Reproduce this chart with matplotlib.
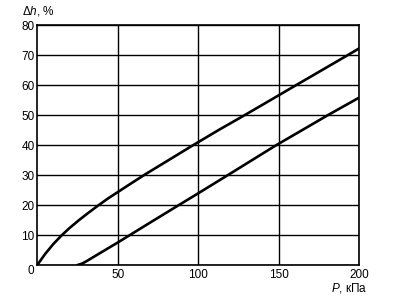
import matplotlib
matplotlib.use('Agg')
import matplotlib.pyplot as plt

plt.rcParams['font.family'] = ['Liberation Sans', 'DejaVu Sans']
plt.rcParams['mathtext.fontset'] = 'custom'
plt.rcParams['mathtext.rm'] = 'Liberation Sans'
plt.rcParams['mathtext.it'] = 'Liberation Sans:italic'

# верхняя кривая
p_upper = [0, 5, 10, 15, 20, 26, 32, 38, 44, 50, 58, 67, 82, 97, 113, 129,
           145, 160, 177, 193, 200]
h_upper = [0, 3.75, 7.0, 9.8, 12.3, 15.0, 17.5, 19.9, 22.2, 24.3, 27.1, 30.2,
           35.1, 40.0, 45.1, 50.0, 55.0, 59.7, 65.0, 70.0, 72.2]

# нижняя кривая
p_lower = [25, 28, 31, 35, 40, 50, 70, 87.7, 100, 120, 148, 165, 181, 200]
h_lower = [0, 0.5, 1.4, 2.7, 4.3, 7.5, 14.1, 19.9, 23.9, 30.5, 39.8, 45.1,
           50.1, 55.8]

x_ticks = [50, 100, 150, 200]
y_ticks = [0, 10, 20, 30, 40, 50, 60, 70, 80]

fig = plt.figure(figsize=(3.96, 3.05), dpi=100)
ax = fig.add_axes([0.094, 0.131, 0.813, 0.787])

ax.plot(p_upper, h_upper, color='black', lw=1.9, solid_capstyle='round')
ax.plot(p_lower, h_lower, color='black', lw=1.9, solid_capstyle='round')

ax.set_xlim(0, 200)
ax.set_ylim(0, 80)
ax.set_xticks(x_ticks)
ax.set_yticks(y_ticks)
ax.grid(True, color='black', lw=1.0)
ax.tick_params(length=0, labelsize=8.5)
ax.tick_params(axis='y', pad=2)
ax.tick_params(axis='x', pad=3)
ax.get_yticklabels()[0].set_va('top')
for s in ax.spines.values():
    s.set_linewidth(1.2)

ax.text(-0.048, 1.03, r'$\Delta h$, %', transform=ax.transAxes, fontsize=8.5,
        ha='left', va='bottom')
ax.text(1.025, -0.065, r'$P$, кПа', transform=ax.transAxes, fontsize=8.5,
        ha='right', va='top')

fig.savefig('out.png', dpi=100)
